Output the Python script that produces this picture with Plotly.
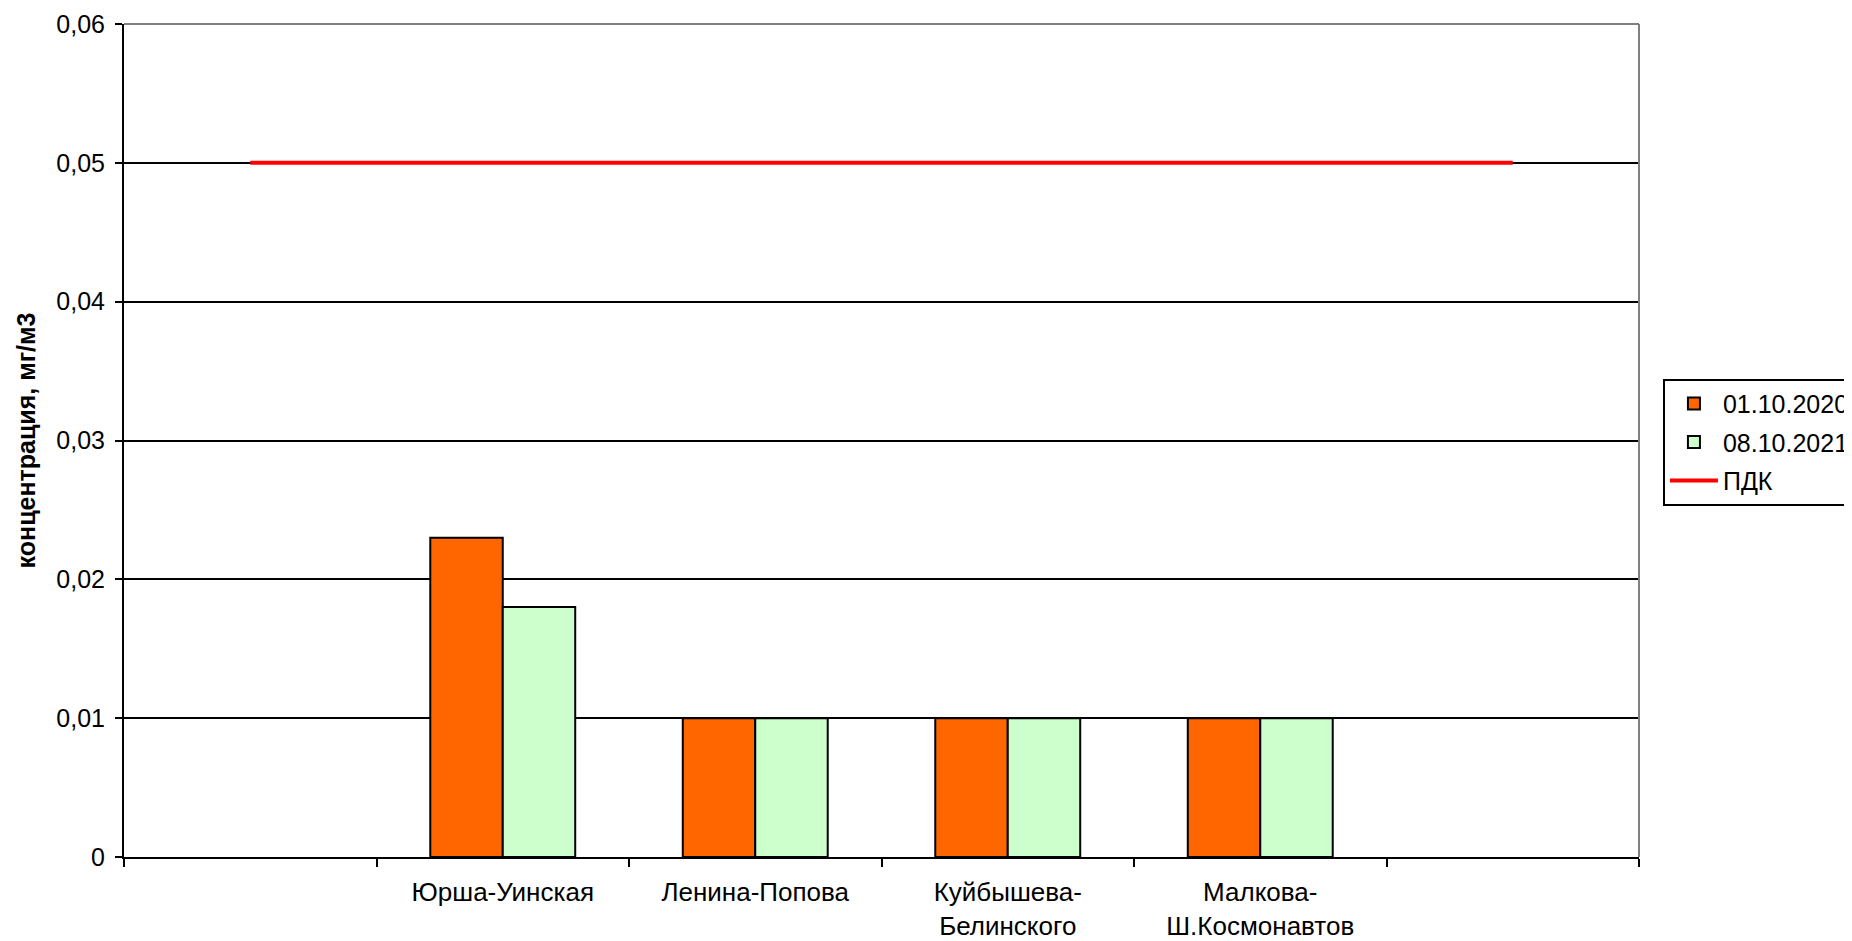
import plotly.graph_objects as go

# Data
categories = [" ", "Юрша-Уинская", "Ленина-Попова", "Куйбышева-<br>Белинского",
              "Малкова-<br>Ш.Космонавтов", "  "]
bar_categories = ["Юрша-Уинская", "Ленина-Попова", "Куйбышева-<br>Белинского",
                  "Малкова-<br>Ш.Космонавтов"]
values_2020 = [0.023, 0.01, 0.01, 0.01]
values_2021 = [0.018, 0.01, 0.01, 0.01]
pdk_values = [0.05, 0.05, 0.05, 0.05, 0.05, 0.05]
series_names = ["01.10.2020", "08.10.2021", "ПДК"]
y_tick_vals = [0, 0.01, 0.02, 0.03, 0.04, 0.05, 0.06]
y_tick_text = ["0", "0,01", "0,02", "0,03", "0,04", "0,05", "0,06"]
y_title = "концентрация, мг/м3"

FONT = "Liberation Sans, Arial, sans-serif"

fig = go.Figure()
fig.add_trace(go.Bar(
    x=bar_categories, y=values_2020, name=series_names[0], legendgroup="a",
    marker=dict(color="#FF6600", line=dict(color="black", width=2)),
))
fig.add_trace(go.Bar(
    x=bar_categories, y=values_2021, name=series_names[1], legendgroup="b",
    marker=dict(color="#CCFFCC", line=dict(color="black", width=2)),
))
fig.add_trace(go.Scatter(
    x=categories, y=pdk_values, name=series_names[2], legendgroup="c",
    mode="lines", line=dict(color="#FF0000", width=4),
))

# page body has an 8px default margin: figure is sized to fill the rest
fig.update_layout(
    width=1844, height=933,
    margin=dict(l=116, r=213, t=16, b=84, autoexpand=False),
    paper_bgcolor="white", plot_bgcolor="white",
    font=dict(family=FONT, color="black"),
    barmode="group", bargap=0.426, bargroupgap=0,
    showlegend=True,
    legend=dict(
        x=1.0158, y=0.574, xanchor="left", yanchor="top",
        bgcolor="white", bordercolor="black", borderwidth=2,
        font=dict(size=25, family=FONT, color="black"),
        itemwidth=48, tracegroupgap=3, traceorder="grouped",
    ),
    xaxis=dict(
        type="category", categoryorder="array", categoryarray=categories,
        range=[-0.5, 5.5],
        tickson="boundaries", ticks="outside", ticklen=8, tickwidth=2,
        tickcolor="black", showgrid=False, ticklabelstandoff=11,
        showline=True, linecolor="black", linewidth=2,
        tickfont=dict(size=26, family=FONT, color="black"),
        zeroline=False,
    ),
    yaxis=dict(
        range=[0, 0.06], tickvals=y_tick_vals, ticktext=y_tick_text,
        ticks="outside", ticklen=7, tickwidth=2, tickcolor="black",
        ticklabelstandoff=5,
        showgrid=True, gridcolor="black", gridwidth=2,
        showline=True, linecolor="black", linewidth=2,
        zeroline=False,
        tickfont=dict(size=25, family=FONT, color="black"),
        title=dict(text="<b>" + y_title + "</b>", standoff=14,
                   font=dict(size=25, family=FONT, color="black")),
    ),
    shapes=[
        dict(type="line", xref="paper", yref="paper", x0=0, x1=1, y0=1, y1=1,
             line=dict(color="#808080", width=2)),
        dict(type="line", xref="paper", yref="paper", x0=1, x1=1, y0=0, y1=1,
             line=dict(color="#808080", width=2)),
    ],
)

fig.write_html("out.html")
